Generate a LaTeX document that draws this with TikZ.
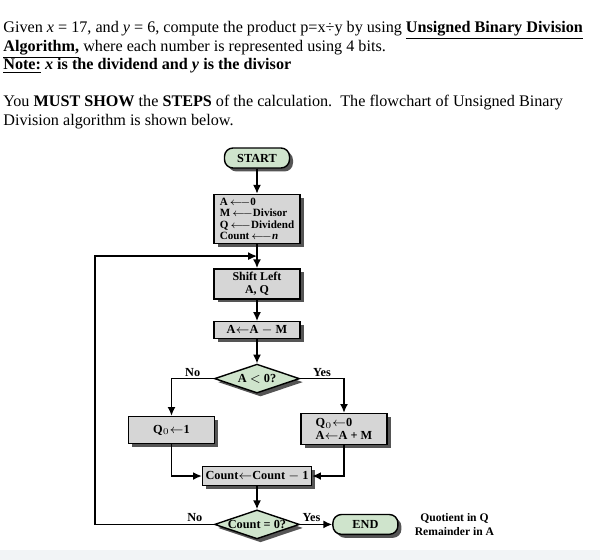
\documentclass[tikz,border=0pt]{standalone}
\usepackage{fontspec}
\setmainfont{Liberation Serif}
\usepackage{tikz}
\usetikzlibrary{arrows.meta,positioning,shapes.geometric,shadows,calc}
\definecolor{boxgray}{RGB}{214,214,214}
\definecolor{termgreen}{RGB}{207,228,204}
\definecolor{shade}{RGB}{85,85,85}
\definecolor{band}{RGB}{242,244,246}

\begin{document}
\begin{tikzpicture}[
  every node/.style={font=\fontsize{7}{8}\selectfont\bfseries},
  txt/.style={font=\fontsize{9.2}{10.6}\selectfont, anchor=north west, align=left, inner sep=0pt},
  shdw/.style={drop shadow={shadow xshift=0.07cm, shadow yshift=-0.07cm, fill=shade, opacity=1}},
  proc/.style={draw, thick, fill=boxgray, shdw, minimum width=1.72cm, align=center, inner sep=1pt},
  term/.style={draw, thick, rounded corners=0.17cm, fill=termgreen, shdw, minimum width=1.3cm, minimum height=0.36cm},
  dec/.style={draw, thick, diamond, aspect=3, fill=termgreen, shdw, minimum width=1.7cm, minimum height=0.58cm, inner sep=0pt},
  arr/.style={-{Latex[length=5pt,width=4.5pt]}, thick},
  lbl/.style={above, inner sep=1pt},
  node distance=0.48cm
]
\useasboundingbox (0,0) rectangle (12,-11.2);
\fill[band] (0,-11.0) rectangle (12,-11.2);

% question text
\node[txt] (intro) at (0.06,-0.42) {Given \textit{x} = 17, and \textit{y} = 6, compute the product p=x\textdiv y by using \textbf{\underline{Unsigned Binary Division}}\\
\textbf{\underline{Algorithm,}} where each number is represented using 4 bits.\\
\textbf{\underline{Note:} \textit{x} is the dividend and \textit{y} is the divisor}};
\node[txt] (task) at (0.06,-1.9) {You \textbf{MUST SHOW} the \textbf{STEPS} of the calculation.\ \ The flowchart of Unsigned Binary\\
Division algorithm is shown below.};

% flowchart
\node[term] (start) at (5.14,-3.16) {START};
\node[proc, below=0.5cm of start, minimum height=0.98cm, align=left, inner sep=0.5pt, font=\fontsize{6.3}{6.6}\selectfont\bfseries] (init) {A\,${\longleftarrow}$0\\M\,${\longleftarrow}$Divisor\\Q\,${\longleftarrow}$Dividend\\Count\,${\longleftarrow}$\textit{n}};
\node[proc, below=of init, minimum height=0.6cm, font=\fontsize{6.8}{7.2}\selectfont\bfseries] (shift) {Shift Left\\A, Q};
\node[proc, below=0.43cm of shift, minimum height=0.34cm] (sub) {A${\leftarrow}$A $-$ M};
\node[dec, below=of sub] (chk) {A $<$ 0?};
\node[proc, below=0.44cm of chk, xshift=-1.71cm, minimum height=0.54cm] (setone) {Q$_0{\leftarrow}$1};
\node[proc, below=0.38cm of chk, xshift=1.74cm, minimum height=0.62cm, align=left, font=\fontsize{7}{7.6}\selectfont\bfseries] (setzero) {Q$_0{\leftarrow}$0\\A${\leftarrow}$A + M};
\node[proc, below=1.44cm of chk, minimum width=2.18cm, minimum height=0.38cm] (dec) {Count${\leftarrow}$Count $-$ 1};
\node[dec, below=0.46cm of dec] (done) {Count = 0?};
\node[term, right=0.64cm of done] (end) {END};
\node[right=0.2cm of end, align=center, font=\fontsize{6.6}{7.6}\selectfont\bfseries] (result) {Quotient in Q\\Remainder in A};

\coordinate (back) at (1.9,0);
\foreach \a/\b in {start/init, init/shift, shift/sub, sub/chk, dec/done}
  \draw[arr] (\a) -- (\b);
\draw[arr] (chk.west) -| node[lbl, pos=0.25] {No} (setone.north);
\draw[arr] (chk.east) -| node[lbl, pos=0.25] {Yes} (setzero.north);
\draw[arr] (setone.south) |- (dec.west);
\draw[arr] (setzero.south) |- (dec.east);
\draw[arr] (done.east) -- node[lbl, pos=0.35] {Yes} (end.west);
\draw[arr] (done.west) -| node[lbl, pos=0.08] {No} (back |- {$(init.south)!0.5!(shift.north)$}) -- ($(init.south)!0.5!(shift.north)$);
\end{tikzpicture}
\end{document}
